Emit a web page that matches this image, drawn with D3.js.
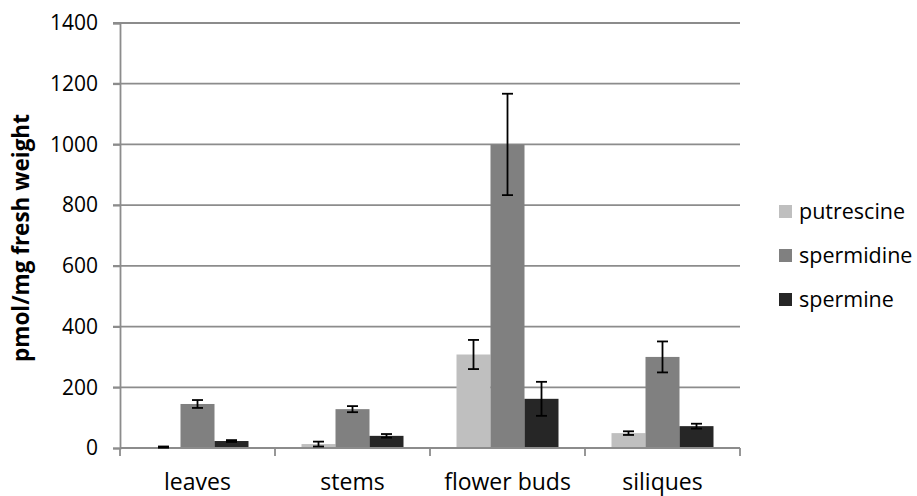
<!DOCTYPE html>
<html><head><meta charset="utf-8">
<script src="https://cdn.jsdelivr.net/npm/d3@7"></script>
<style>body{margin:0;background:#fff}svg{display:block}</style>
</head><body>
<script>
const categories = ["leaves","stems","flower buds","siliques"];
const seriesNames = ["putrescine","spermidine","spermine"];
const putrescine = [3, 13, 308, 49];
const putrescineErr = [2, 8, 48, 6];
const spermidine = [145, 128, 1000, 300];
const spermidineErr = [13, 10, 167, 51];
const spermine = [23, 40, 162, 72];
const spermineErr = [3, 6, 56, 8];
const yTicks = [0,200,400,600,800,1000,1200,1400];
const colors = ["#bfbfbf","#808080","#262626"];

const values = [putrescine, spermidine, spermine];
const errs = [putrescineErr, spermidineErr, spermineErr];

const W=917,H=496;
const m={left:120,right:177,top:23,bottom:48};
const font='"Open Sans", sans-serif';
const svg=d3.select("body").append("svg").attr("width",W).attr("height",H);
const x=d3.scaleBand().domain(categories).range([m.left,W-m.right]);
const y=d3.scaleLinear().domain([0,1400]).range([H-m.bottom,m.top]);
const inner=d3.scaleBand().domain(seriesNames).range([x.bandwidth()/2-51, x.bandwidth()/2+51]);

const grid="#8c8c8c";
svg.append("g").selectAll("line").data(yTicks.filter(d=>d>0)).join("line")
 .attr("x1",m.left-7).attr("x2",W-m.right).attr("y1",d=>y(d)).attr("y2",d=>y(d))
 .attr("stroke",grid).attr("stroke-width",1.8);

seriesNames.forEach((s,i)=>{
  svg.append("g").selectAll("rect").data(categories).join("rect")
   .attr("x",c=>x(c)+inner(s)).attr("width",inner.bandwidth())
   .attr("y",(c,j)=>y(values[i][j])).attr("height",(c,j)=>y(0)-y(values[i][j]))
   .attr("fill",colors[i]);
});

const yAxis=svg.append("g").attr("transform",`translate(${m.left},0)`)
 .call(d3.axisLeft(y).tickValues(yTicks).tickFormat(d3.format("d")).tickSize(7).tickPadding(15));
yAxis.select(".domain").attr("stroke",grid).attr("stroke-width",1.8);
yAxis.selectAll(".tick line").attr("stroke",grid).attr("stroke-width",1.8);
yAxis.selectAll("text").attr("font-family",font).attr("font-size",21).attr("fill","#000");

const xAxisG=svg.append("g").attr("transform",`translate(0,${y(0)})`);
xAxisG.append("line").attr("x1",m.left).attr("x2",W-m.right).attr("stroke",grid).attr("stroke-width",1.8);
const bounds=categories.map(c=>x(c)).concat([x(categories[3])+x.bandwidth()]);
xAxisG.selectAll(".tk").data(bounds).join("line").attr("class","tk")
 .attr("x1",d=>d).attr("x2",d=>d).attr("y1",0).attr("y2",8).attr("stroke",grid).attr("stroke-width",1.8);
xAxisG.selectAll("text").data(categories).join("text")
 .attr("x",c=>x(c)+x.bandwidth()/2).attr("y",42).attr("text-anchor","middle")
 .attr("font-family",font).attr("font-size",23).attr("fill","#000").text(c=>c);

seriesNames.forEach((s,i)=>{
  const g=svg.append("g").attr("stroke","#000").attr("stroke-width",1.8);
  categories.forEach((c,j)=>{
    const cx=x(c)+inner(s)+inner.bandwidth()/2;
    const v=values[i][j], e=errs[i][j];
    g.append("line").attr("x1",cx).attr("x2",cx).attr("y1",y(v+e)).attr("y2",y(v-e));
    g.append("line").attr("x1",cx-5.5).attr("x2",cx+5.5).attr("y1",y(v+e)).attr("y2",y(v+e));
    g.append("line").attr("x1",cx-5.5).attr("x2",cx+5.5).attr("y1",y(v-e)).attr("y2",y(v-e));
  });
});

svg.append("text").attr("transform",`translate(29,238) rotate(-90)`)
 .attr("text-anchor","middle").attr("font-family",font).attr("font-weight","bold")
 .attr("font-size",22.5).text("pmol/mg fresh weight");

const lg=svg.append("g").selectAll("g").data(seriesNames).join("g")
 .attr("transform",(d,i)=>`translate(779,${212+i*44})`);
lg.append("rect").attr("x",0).attr("y",-7).attr("width",13).attr("height",13).attr("fill",(d,i)=>colors[i]);
lg.append("text").attr("x",20).attr("y",7).attr("font-family",font).attr("font-size",21.5).text(d=>d);
</script>
</body></html>
